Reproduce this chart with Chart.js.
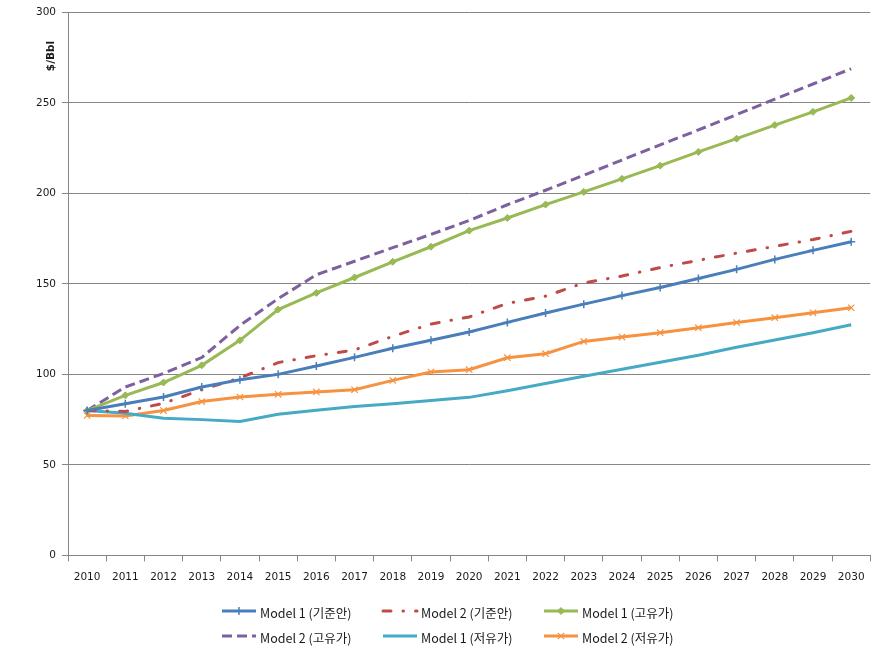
<!DOCTYPE html>
<html>
<head>
<meta charset="utf-8">
<script src="https://cdn.jsdelivr.net/npm/chart.js@4.4.1/dist/chart.umd.min.js"></script>
<style>
  body { margin: 0; background: #fff; }
  #wrap { width: 876px; height: 648px; }
</style>
</head>
<body>
<div id="wrap"><canvas id="oil_price_chart" width="876" height="648"></canvas></div>
<script>
// 연도
var years = ["2010", "2011", "2012", "2013", "2014", "2015", "2016", "2017", "2018", "2019", "2020",
             "2021", "2022", "2023", "2024", "2025", "2026", "2027", "2028", "2029", "2030"];

// 시리즈 값 ($/Bbl)
var model1Base = [80, 83.8, 87.5, 93, 97, 100, 104.6, 109.4, 114.4, 118.8, 123.4,
                  128.7, 133.9, 138.8, 143.5, 148, 153, 158, 163.5, 168.5, 173.3];
var model2Base = [80, 79.5, 84, 91.5, 98, 106.5, 110.3, 113.5, 121, 127.8, 131.7,
                  139.2, 143.2, 150.5, 154.3, 159, 163, 167, 170.7, 174.5, 179];
var model1High = [80, 88.4, 95.5, 105, 118.8, 135.8, 145, 153.5, 162.2, 170.5, 179.4,
                  186.4, 193.8, 200.8, 208, 215.3, 222.9, 230.2, 237.7, 245, 252.7];
var model2High = [80, 93, 100.5, 109.3, 127, 141.8, 155, 162.5, 170, 177.3, 185,
                  193.7, 201.7, 210, 218.4, 226.8, 235, 243.5, 252, 260.4, 268.8];
var model1Low  = [80, 78.5, 75.7, 75, 74, 78, 80.2, 82.2, 83.8, 85.5, 87.3,
                  91, 95, 99, 102.8, 106.7, 110.6, 115, 119, 123, 127.4];
var model2Low  = [77.3, 77, 80, 85, 87.5, 89, 90.3, 91.5, 96.7, 101.3, 102.6,
                  109.2, 111.4, 118.2, 120.6, 123, 125.8, 128.6, 131.3, 134, 136.8];

var seriesLabels = ["Model 1 (기준안)", "Model 2 (기준안)", "Model 1 (고유가)",
                    "Model 2 (고유가)", "Model 1 (저유가)", "Model 2 (저유가)"];

var yTicks = { min: 0, max: 300, step: 50 };

var gridColor = "#868686";
var textColor = "#1a1a1a";

//legenda a griglia 3x2 e titolo asse y
var extrasPlugin = {
  id: "extras",
  afterDraw: function(chart) {
    var ctx = chart.ctx;
    ctx.save();

    // titolo asse y
    ctx.translate(51, 56);
    ctx.rotate(-Math.PI / 2);
    ctx.fillStyle = textColor;
    ctx.font = "bold 10.5px 'DejaVu Sans'";
    ctx.textAlign = "center";
    ctx.textBaseline = "middle";
    ctx.fillText("$/Bbl", 0, 0);
    ctx.restore();

    ctx.save();
    chart.data.datasets.forEach(function(ds, i) {
      var col = i % 3;
      var row = Math.floor(i / 3);
      var x = 222 + col * 161;
      var y = 611 + row * 25;

      ctx.save();
      ctx.strokeStyle = ds.borderColor;
      ctx.lineWidth = ds.borderWidth;
      ctx.lineCap = ds.borderCapStyle || "butt";
      ctx.setLineDash(ds.borderDash || []);
      ctx.beginPath();
      ctx.moveTo(x, y);
      ctx.lineTo(x + 34, y);
      ctx.stroke();
      ctx.restore();

      if (ds.pointRadius > 0) {
        ctx.save();
        ctx.strokeStyle = ds.borderColor;
        ctx.fillStyle = ds.borderColor;
        ctx.lineWidth = ds.pointBorderWidth;
        Chart.helpers.drawPoint(ctx, {
          pointStyle: ds.pointStyle,
          radius: ds.pointRadius,
          rotation: 0,
          borderWidth: ds.pointBorderWidth
        }, x + 17, y);
        ctx.restore();
      }

      ctx.fillStyle = textColor;
      ctx.font = "12.5px 'Noto Sans CJK KR'";
      ctx.textAlign = "left";
      ctx.textBaseline = "middle";
      ctx.fillText(ds.label, x + 38, y + 2);
    });
    ctx.restore();
  }
};

function printLineGraph() {

  var ctxLine = document.getElementById("oil_price_chart");
  var lineGraph = new Chart(ctxLine, {
    type: "line",
    data: {
      labels: years,
      datasets: [
        {
          label: seriesLabels[0],
          data: model1Base,
          borderColor: "#4A7EBB",
          borderWidth: 3,
          pointStyle: "cross",
          pointRadius: 4,
          pointBorderWidth: 1.5,
          pointBorderColor: "#4A7EBB"
        },
        {
          label: seriesLabels[1],
          data: model2Base,
          borderColor: "#BE4B48",
          borderWidth: 3,
          borderDash: [8, 12, 0.5, 12],
          borderCapStyle: "round",
          pointRadius: 0
        },
        {
          label: seriesLabels[2],
          data: model1High,
          borderColor: "#98B954",
          borderWidth: 3,
          pointStyle: "rectRot",
          pointRadius: 3.5,
          pointBorderWidth: 1,
          pointBackgroundColor: "#98B954",
          pointBorderColor: "#98B954"
        },
        {
          label: seriesLabels[3],
          data: model2High,
          borderColor: "#7D60A0",
          borderWidth: 3,
          borderDash: [10, 5],
          pointRadius: 0
        },
        {
          label: seriesLabels[4],
          data: model1Low,
          borderColor: "#46AAC5",
          borderWidth: 3,
          pointRadius: 0
        },
        {
          label: seriesLabels[5],
          data: model2Low,
          borderColor: "#F69240",
          borderWidth: 3,
          pointStyle: "crossRot",
          pointRadius: 4.5,
          pointBorderWidth: 1.2,
          pointBorderColor: "#F69240"
        }
      ]
    },
    options: {
      responsive: false,
      animation: false,
      devicePixelRatio: 1,
      layout: { padding: { top: 12, right: 5, bottom: 54, left: 0 } },
      elements: { line: { tension: 0, fill: false } },
      plugins: {
        legend: { display: false },
        tooltip: { enabled: false }
      },
      scales: {
        x: {
          offset: true,
          grid: {
            offset: true,
            drawOnChartArea: false,
            drawTicks: true,
            tickLength: 6,
            color: gridColor
          },
          border: { display: true, color: gridColor, width: 1 },
          ticks: {
            color: textColor,
            padding: 10,
            maxRotation: 0,
            autoSkip: false,
            font: { family: "'DejaVu Sans'", size: 10.5 }
          }
        },
        y: {
          min: yTicks.min,
          max: yTicks.max,
          afterFit: function(scale) { scale.width = 68; },
          grid: {
            color: gridColor,
            tickLength: 6,
            drawTicks: true
          },
          border: { display: true, color: gridColor, width: 1 },
          ticks: {
            stepSize: yTicks.step,
            color: textColor,
            padding: 6,
            font: { family: "'DejaVu Sans'", size: 10.5 }
          }
        }
      }
    },
    plugins: [extrasPlugin]
  });
}

printLineGraph();
</script>
</body>
</html>
